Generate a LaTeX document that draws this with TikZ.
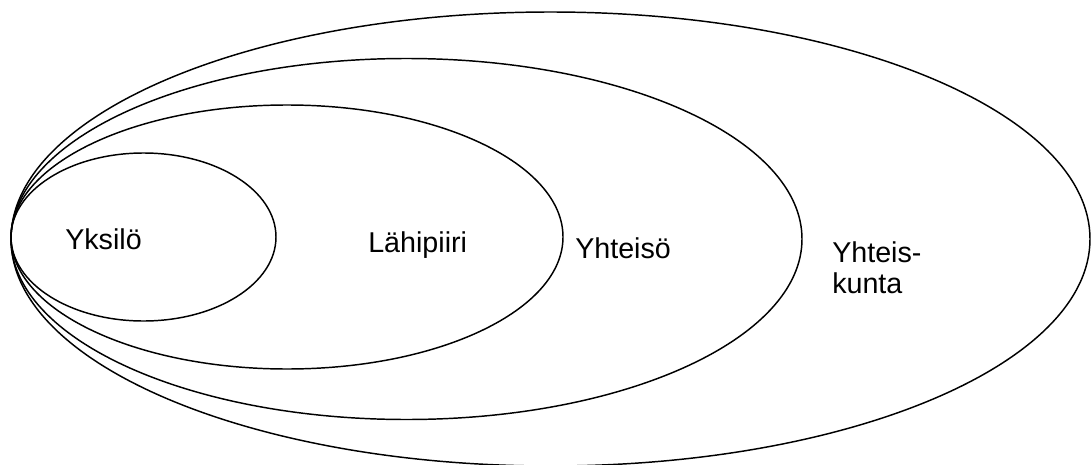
\documentclass[tikz,border=0pt]{standalone}
\usepackage{fontspec}
\setmainfont{Liberation Sans}
\begin{document}
\begin{tikzpicture}[x=0.75pt,y=-0.75pt,
  ring/.style={draw=black,line width=1.1pt},
  lbl/.style={anchor=base west,inner sep=0pt,font=\fontsize{21.5pt}{23pt}\selectfont}]
\useasboundingbox (0,0) rectangle (1092,464);
\draw[ring] (550.5,239) ellipse [x radius=539.5, y radius=227];
\draw[ring] (406.5,239) ellipse [x radius=395.5, y radius=180.5];
\draw[ring] (287,237) ellipse [x radius=276, y radius=132];
\draw[ring] (143.5,237) ellipse [x radius=132.5, y radius=84];
\node[lbl] (yksilo) at (65,249) {Yksilö};
\node[lbl] (lahipiiri) at (368,252) {Lähipiiri};
\node[lbl] (yhteiso) at (575,258) {Yhteisö};
\node[lbl] (yhteis) at (832,262) {Yhteis-};
\node[lbl] (kunta) at (832,293) {kunta};
\end{tikzpicture}
\end{document}
